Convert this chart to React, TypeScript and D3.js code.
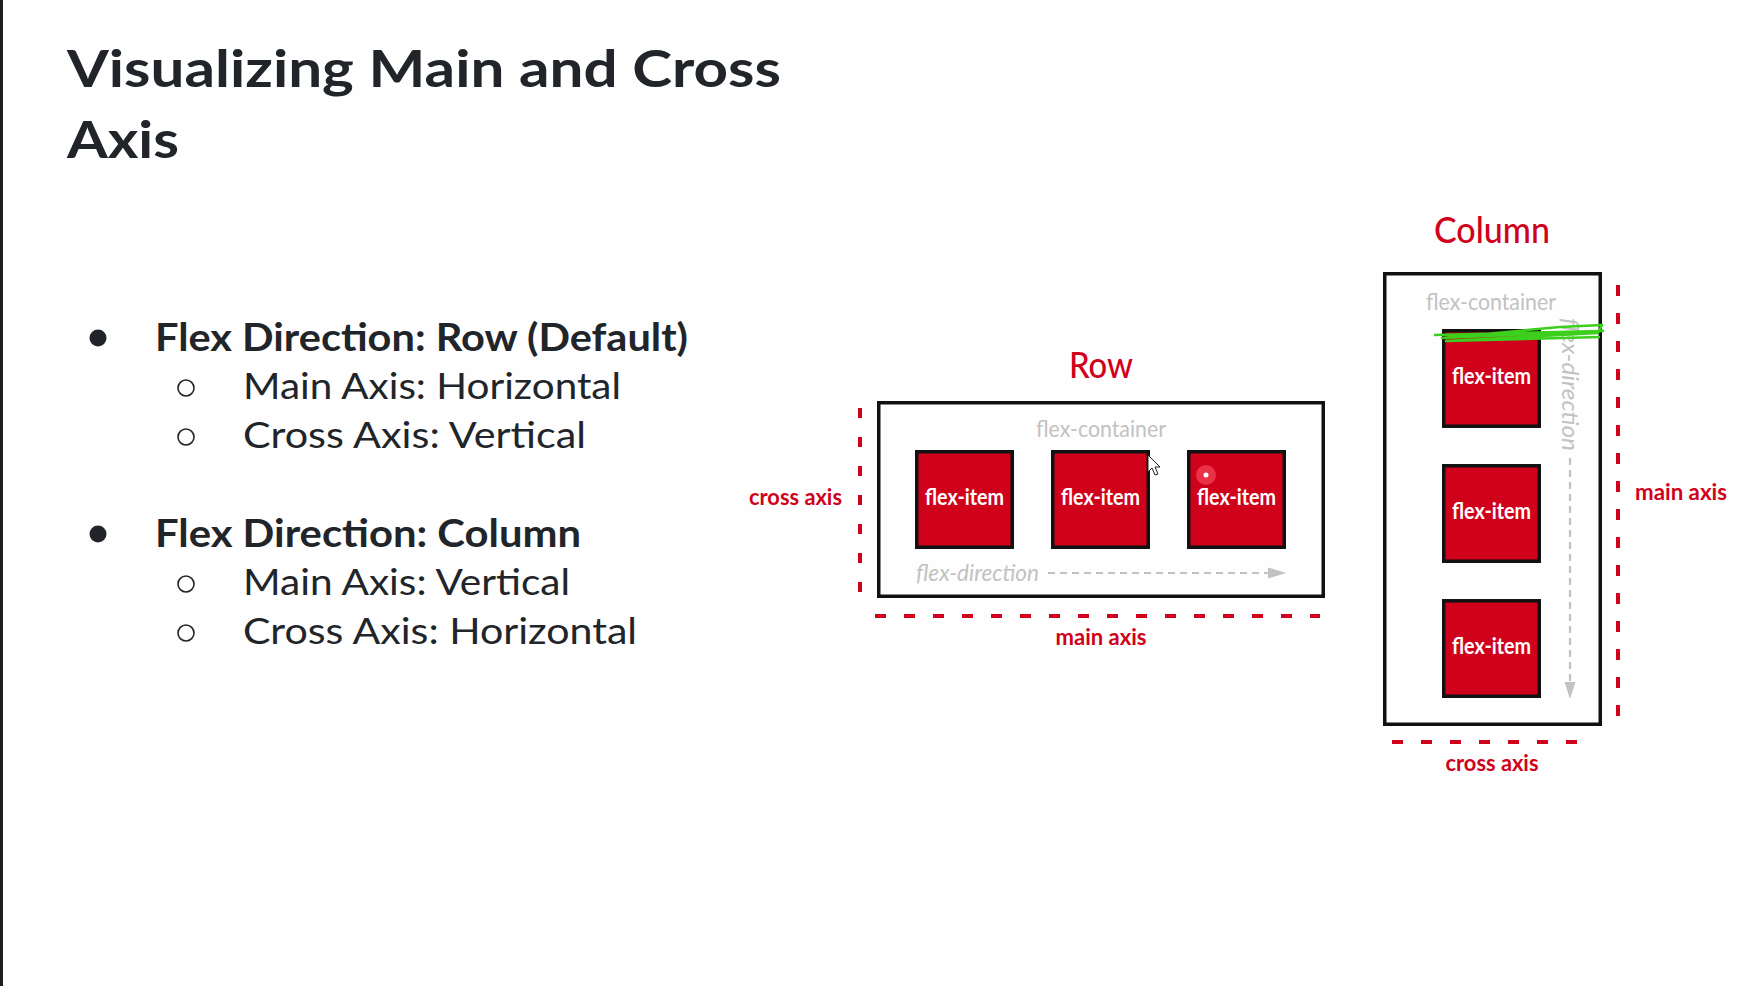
import { useEffect, useRef } from 'react';
import * as d3 from 'd3';

// slide text
const titleLines = ['Visualizing Main and Cross', 'Axis'];
const bulletHeaders = ['Flex Direction: Row (Default)', 'Flex Direction: Column'];
const rowSubItems = ['Main Axis: Horizontal', 'Cross Axis: Vertical'];
const columnSubItems = ['Main Axis: Vertical', 'Cross Axis: Horizontal'];

// diagram labels
const rowItems = ['flex-item', 'flex-item', 'flex-item'];
const columnItems = ['flex-item', 'flex-item', 'flex-item'];
const diagramTitles = ['Row', 'Column'];
const axisLabels = ['main axis', 'cross axis'];

const RED = '#d0021b';
const GRAY = '#c2c2c2';
const DARK = '#212529';

export default function App() {
  const svgRef = useRef<SVGSVGElement>(null);

  useEffect(() => {
    if (!svgRef.current) return;
    const svg = d3.select(svgRef.current);
    svg.selectAll('*').remove();

    const width = 1756;
    const height = 986;

    svg.append('rect').attr('width', width).attr('height', height).attr('fill', '#fefefe');
    svg.append('rect').attr('x', 0).attr('y', 0).attr('width', 3).attr('height', height).attr('fill', '#1e1e1e');

    const slideFont = 'Lato, "Open Sans", sans-serif';
    const diagFont = 'Lato, "Noto Sans", sans-serif';

    // Title
    const titleLens = [714, 112];
    titleLines.forEach((t, i) => {
      svg.append('text')
        .attr('x', 67)
        .attr('y', 87 + i * 71)
        .attr('font-family', slideFont)
        .attr('font-weight', 700)
        .attr('font-size', 52)
        .attr('fill', DARK)
        .attr('textLength', titleLens[i])
        .attr('lengthAdjust', 'spacingAndGlyphs')
        .text(t);
    });

    // Bullet list
    const groups = [
      { header: bulletHeaders[0], headerLen: 533, subs: rowSubItems, subLens: [378, 343], y: 351 },
      { header: bulletHeaders[1], headerLen: 426, subs: columnSubItems, subLens: [327, 394], y: 547 }
    ];
    groups.forEach(g => {
      svg.append('circle').attr('cx', 98).attr('cy', g.y - 13).attr('r', 8.5).attr('fill', DARK);
      svg.append('text')
        .attr('x', 155).attr('y', g.y)
        .attr('font-family', slideFont).attr('font-weight', 700).attr('font-size', 39)
        .attr('fill', DARK)
        .attr('textLength', g.headerLen).attr('lengthAdjust', 'spacingAndGlyphs')
        .text(g.header);
      g.subs.forEach((s, j) => {
        const y = g.y + 48 + j * 49;
        svg.append('circle').attr('cx', 186).attr('cy', y - 11).attr('r', 8)
          .attr('fill', 'none').attr('stroke', DARK).attr('stroke-width', 1.6);
        svg.append('text')
          .attr('x', 243).attr('y', y)
          .attr('font-family', slideFont).attr('font-weight', 400).attr('font-size', 36)
          .attr('fill', DARK)
          .attr('textLength', g.subLens[j]).attr('lengthAdjust', 'spacingAndGlyphs')
          .text(s);
      });
    });

    const label = (x: number, y: number, t: string, opts: any = {}) =>
      svg.append('text')
        .attr('x', x).attr('y', y)
        .attr('font-family', diagFont)
        .attr('font-size', opts.size ?? 22)
        .attr('font-weight', opts.weight ?? 400)
        .attr('font-style', opts.italic ? 'italic' : 'normal')
        .attr('fill', opts.fill ?? RED)
        .attr('text-anchor', opts.anchor ?? 'middle')
        .attr('textLength', opts.len ?? null)
        .attr('lengthAdjust', 'spacingAndGlyphs')
        .text(t);

    const itemBox = (x: number, y: number, w: number, h: number, t: string) => {
      svg.append('rect')
        .attr('x', x + 1.75).attr('y', y + 1.75)
        .attr('width', w - 3.5).attr('height', h - 3.5)
        .attr('fill', RED).attr('stroke', '#111').attr('stroke-width', 3.5);
      label(x + w / 2, y + 55, t, { fill: '#fff', len: 79, size: 23, weight: 700 });
    };

    // ---- Row diagram ----
    label(1101, 378, diagramTitles[0], { size: 36, weight: 500, len: 64 });
    svg.append('rect').attr('x', 878.75).attr('y', 402.75).attr('width', 444.5).attr('height', 193.5)
      .attr('fill', 'none').attr('stroke', '#111').attr('stroke-width', 3.5);
    label(1101, 437, 'flex-container', { fill: GRAY, len: 130, size: 23 });

    const xRow = d3.scaleBand<number>()
      .domain(d3.range(rowItems.length))
      .range([915, 1286])
      .paddingInner(0.272);
    rowItems.forEach((t, i) => itemBox(xRow(i)!, 450, xRow.bandwidth(), 99, t));

    label(916, 581, 'flex-direction', { fill: GRAY, italic: true, anchor: 'start', len: 123, size: 24 });
    svg.append('line').attr('x1', 1048).attr('x2', 1268).attr('y1', 573).attr('y2', 573)
      .attr('stroke', GRAY).attr('stroke-width', 2.2).attr('stroke-dasharray', '7 5');
    svg.append('path').attr('d', 'M1268,567.5L1286,573L1268,578.5Z').attr('fill', GRAY);

    svg.append('line').attr('x1', 860).attr('x2', 860).attr('y1', 408).attr('y2', 592)
      .attr('stroke', RED).attr('stroke-width', 4).attr('stroke-dasharray', '10 19');
    label(842, 505, axisLabels[1], { anchor: 'end', len: 93, size: 22, weight: 700 });

    svg.append('line').attr('x1', 875).attr('x2', 1320).attr('y1', 616).attr('y2', 616)
      .attr('stroke', RED).attr('stroke-width', 4).attr('stroke-dasharray', '11 18');
    label(1101, 645, axisLabels[0], { len: 91, size: 22, weight: 700 });

    // cursor and click marker
    svg.append('path')
      .attr('d', 'M1148,455L1148,472L1152,468L1155,475L1158,474L1155,467L1160,467Z')
      .attr('fill', '#fff').attr('stroke', '#222').attr('stroke-width', 1);
    svg.append('circle').attr('cx', 1206).attr('cy', 475).attr('r', 10)
      .attr('fill', '#ff5a6a').attr('opacity', 0.55);
    svg.append('circle').attr('cx', 1206).attr('cy', 475).attr('r', 2.5).attr('fill', '#fff');

    // ---- Column diagram ----
    label(1492, 243, diagramTitles[1], { size: 36, weight: 500, len: 116 });
    svg.append('rect').attr('x', 1384.75).attr('y', 273.75).attr('width', 215.5).attr('height', 450.5)
      .attr('fill', 'none').attr('stroke', '#111').attr('stroke-width', 3.5);
    label(1491, 310, 'flex-container', { fill: GRAY, len: 130, size: 23 });

    const yCol = d3.scaleBand<number>()
      .domain(d3.range(columnItems.length))
      .range([329, 698])
      .paddingInner(0.267);
    columnItems.forEach((t, i) => itemBox(1442, yCol(i)!, 99, yCol.bandwidth(), t));

    svg.append('text')
      .attr('transform', 'translate(1562,318) rotate(90)')
      .attr('font-family', diagFont).attr('font-size', 24).attr('font-style', 'italic')
      .attr('fill', GRAY)
      .attr('textLength', 133).attr('lengthAdjust', 'spacingAndGlyphs')
      .text('flex-direction');
    svg.append('line').attr('x1', 1570).attr('x2', 1570).attr('y1', 458).attr('y2', 682)
      .attr('stroke', GRAY).attr('stroke-width', 2.2).attr('stroke-dasharray', '7 5');
    svg.append('path').attr('d', 'M1564.5,682L1570,699L1575.5,682Z').attr('fill', GRAY);

    svg.append('line').attr('x1', 1618).attr('x2', 1618).attr('y1', 285).attr('y2', 730)
      .attr('stroke', RED).attr('stroke-width', 4).attr('stroke-dasharray', '11 17');
    label(1635, 500, axisLabels[0], { anchor: 'start', len: 92, size: 22, weight: 700 });

    svg.append('line').attr('x1', 1392).attr('x2', 1580).attr('y1', 742).attr('y2', 742)
      .attr('stroke', RED).attr('stroke-width', 4).attr('stroke-dasharray', '11 18');
    label(1492, 771, axisLabels[1], { len: 93, size: 22, weight: 700 });

    // green annotation scribble
    svg.append('path')
      .attr('d', 'M1434,335L1603,331L1442,338L1560,327L1602,325L1598,333L1446,341L1600,337')
      .attr('fill', 'none').attr('stroke', '#3ccf1c').attr('stroke-width', 2.5)
      .attr('stroke-linejoin', 'round');
  }, []);

  return (
    <div style={{ position: 'absolute', left: 0, top: 0 }}>
      <svg ref={svgRef} width={1756} height={986} style={{ display: 'block' }} />
    </div>
  );
}
